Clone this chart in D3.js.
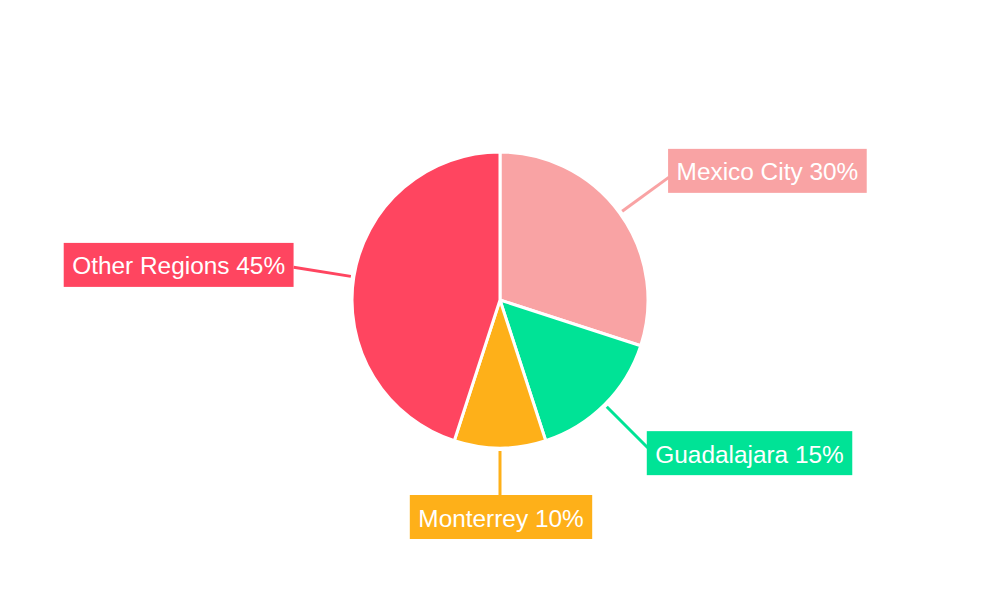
<!DOCTYPE html>
<html>
<head>
<meta charset="utf-8">
<script src="https://cdn.jsdelivr.net/npm/d3@7"></script>
<style>
  html, body { margin:0; padding:0; background:#fff; }
  svg { display:block; font-family:"Liberation Sans", Arial, sans-serif; }
</style>
</head>
<body>
<svg id="chart"></svg>
<script>
const categories = ["Mexico City","Guadalajara","Monterrey","Other Regions"];
const values = [30,15,10,45];
const colors = ["#f9a3a4","#00e396","#feb019","#ff4560"];

const W = 1000;
const H = 600;
const cx = 500;
const cy = 300;
const radius = 148;

const svg = d3.select("#chart")
  .attr("width",W)
  .attr("height",H)
  .attr("viewBox",`0 0 ${W} ${H}`);

const data = categories.map((c,i)=>({name:c, value:values[i], color:colors[i]}));

const pie = d3.pie()
  .sort(null)
  .value(d=>d.value);

const arc = d3.arc()
  .innerRadius(0)
  .outerRadius(radius);

const arcs = pie(data);

const g = svg.append("g")
  .attr("transform",`translate(${cx},${cy})`);

g.selectAll(".slice")
  .data(arcs)
  .join("path")
  .attr("class","slice")
  .attr("d",arc)
  .attr("fill",d=>d.data.color)
  .attr("stroke","#fff")
  .attr("stroke-width",3);

// label anchor points out along the mid angle
const lineStart = d3.arc().innerRadius(151).outerRadius(151);
const lineEnd = d3.arc().innerRadius(209).outerRadius(209);

g.selectAll(".leader")
  .data(arcs)
  .join("line")
  .attr("class","leader")
  .attr("x1",d=>lineStart.centroid(d)[0])
  .attr("y1",d=>lineStart.centroid(d)[1])
  .attr("x2",d=>lineEnd.centroid(d)[0])
  .attr("y2",d=>lineEnd.centroid(d)[1])
  .attr("stroke",d=>d.data.color)
  .attr("stroke-width",3);

const pad = 8.5;
const boxH = 44;

const labels = g.selectAll(".label")
  .data(arcs)
  .join("g")
  .attr("class","label");

labels.each(function(d){
  const sel = d3.select(this);
  const mid = (d.startAngle+d.endAngle)/2;
  const [ax,ay] = lineEnd.centroid(d);

  const txt = sel.append("text")
    .attr("fill","#fff")
    .attr("font-size",24.4)
    .attr("dominant-baseline","central")
    .text(`${d.data.name} ${d.data.value}%`);

  const tw = txt.node().getComputedTextLength();
  const bw = tw + pad*2;
  const s = Math.sin(mid);

  let bx;
  if (Math.abs(s) < 0.2) bx = ax - bw/2 + 1;
  else if (s > 0) bx = ax - 1;
  else bx = ax - bw;

  const by = ay - Math.cos(mid)*9 - boxH/2 - 1;

  sel.insert("rect","text")
    .attr("x",bx)
    .attr("y",by)
    .attr("width",bw)
    .attr("height",boxH)
    .attr("fill",d.data.color);

  txt.attr("x",bx+pad)
    .attr("y",by+boxH/2+1);
});
</script>
</body>
</html>
